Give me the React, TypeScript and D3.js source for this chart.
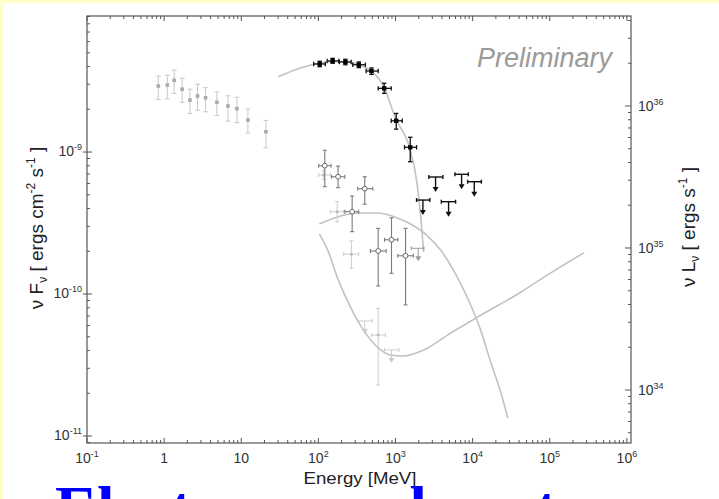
import React from 'react';
import * as d3 from 'd3';

const W = 719;
const H = 499;

// Low-energy (COMPTEL-like) points: energy [MeV], nuFnu and error range
const lowE = [0.84, 1.10, 1.35, 1.71, 2.16, 2.71, 3.44, 4.83, 6.72, 8.79, 12.2, 20.9];
const lowF = [2.92e-9, 2.96e-9, 3.20e-9, 2.77e-9, 2.32e-9, 2.48e-9, 2.41e-9, 2.24e-9, 2.11e-9, 2.02e-9, 1.68e-9, 1.39e-9];
const lowFLo = [2.35e-9, 2.37e-9, 2.59e-9, 2.24e-9, 1.87e-9, 1.97e-9, 1.92e-9, 1.81e-9, 1.65e-9, 1.61e-9, 1.36e-9, 1.07e-9];
const lowFHi = [3.43e-9, 3.47e-9, 3.78e-9, 3.31e-9, 2.77e-9, 3.00e-9, 2.84e-9, 2.65e-9, 2.49e-9, 2.43e-9, 2.01e-9, 1.67e-9];

// LAT (black) points
const latE = [104, 153, 224, 334, 488, 713, 1021, 1552];
const latELo = [86.9, 130, 187, 279, 416, 596, 879, 1309];
const latEHi = [123, 184, 266, 407, 596, 879, 1222, 1875];
const latF = [4.17e-9, 4.38e-9, 4.31e-9, 4.12e-9, 3.72e-9, 2.81e-9, 1.66e-9, 1.08e-9];
const latFLo = [3.99e-9, 4.22e-9, 4.12e-9, 3.93e-9, 3.52e-9, 2.59e-9, 1.45e-9, 8.55e-10];
const latFHi = [4.36e-9, 4.57e-9, 4.50e-9, 4.31e-9, 3.91e-9, 3.05e-9, 1.87e-9, 1.27e-9];

// LAT upper limits (black)
const ulE = [2265, 3305, 4875, 7190, 10500];
const ulELo = [1875, 2704, 3926, 5888, 8610];
const ulEHi = [2786, 4111, 6012, 8790, 12970];
const ulF = [4.59e-10, 6.67e-10, 4.47e-10, 6.97e-10, 6.18e-10];

// Open-circle (grey) points
const circE = [121, 180, 399, 274, 596, 887, 1349];
const circELo = [101, 148, 324, 220, 473, 719, 1072];
const circEHi = [146, 220, 507, 333, 757, 1072, 1698];
const circF = [8.01e-10, 6.70e-10, 5.52e-10, 3.80e-10, 2.01e-10, 2.41e-10, 1.86e-10];
const circFLo = [5.70e-10, 5.61e-10, 4.29e-10, 2.75e-10, 1.14e-10, 1.40e-10, 8.38e-11];
const circFHi = [1.03e-9, 7.96e-10, 6.70e-10, 4.90e-10, 2.90e-10, 3.44e-10, 2.90e-10];

// Light grey points
const lightE = [117, 175, 268, 596];
const lightELo = [101, 143, 213, 488];
const lightEHi = [143, 213, 333, 741];
const lightF = [6.89e-10, 3.80e-10, 1.91e-10, 5.14e-11];
const lightFLo = [6.4e-10, 3.23e-10, 1.52e-10, 2.29e-11];
const lightFHi = [7.4e-10, 4.47e-10, 2.37e-10, 7.92e-11];

// Grey upper limits
const gulE = [1972];
const gulELo = [1600];
const gulEHi = [2333];
const gulF = [2.10e-10];

// Light upper limits
const lulE = [399, 887];
const lulELo = [324, 719];
const lulEHi = [498, 1104];
const lulF = [6.46e-11, 4.04e-11];

// Model curves
const curveAE = [30.3, 58.3, 106, 166, 261, 373, 503, 699, 1000, 1520, 1875, 2113, 2312];
const curveAF = [3.39e-9, 3.91e-9, 4.24e-9, 4.34e-9, 4.27e-9, 4.03e-9, 3.66e-9, 2.92e-9, 1.73e-9, 1.07e-9, 6.35e-10, 3.60e-10, 1.98e-10];
const curveBE = [103, 193, 351, 566, 1000, 1567, 2529, 3840, 6194, 9418, 12700, 17130, 23110, 28510];
const curveBF = [3.11e-10, 3.54e-10, 3.72e-10, 3.72e-10, 3.48e-10, 3.11e-10, 2.60e-10, 2.04e-10, 1.34e-10, 8.37e-11, 5.57e-11, 3.32e-11, 2.04e-11, 1.34e-11];
const curveCE = [103, 135, 177, 261, 384, 583, 861, 1270, 2312, 5180, 11610, 42000, 103000, 276700];
const curveCF = [2.65e-10, 1.98e-10, 1.30e-10, 8.10e-11, 5.57e-11, 4.23e-11, 3.72e-11, 3.66e-11, 4.03e-11, 5.31e-11, 6.89e-11, 1.03e-10, 1.41e-10, 1.95e-10];

// Axis tick decades
const xDecades = [-1, 0, 1, 2, 3, 4, 5, 6];
const yDecades = [-11, -10, -9];
const yRDecades = [34, 35, 36];
const LUM = 4.74e44; // nuLnu / nuFnu conversion

export default function App() {
  const L = 87, R = 631, T = 16, B = 443;
  const x = d3.scaleLog().domain([0.1, 1.13e6]).range([L, R]);
  const y = d3.scaleLog().domain([8.93e-12, 9.08e-9]).range([B, T]);
  const yR = d3.scaleLog().domain([8.93e-12 * LUM, 9.08e-9 * LUM]).range([B, T]);

  const sans = "'Liberation Sans', Arial, sans-serif";
  const axisColor = '#555';

  const line = d3.line<[number, number]>()
    .x((d) => x(d[0]))
    .y((d) => y(d[1]))
    .curve(d3.curveMonotoneX);

  const minors = (scale: any, decades: number[], extra: number[]) => {
    const [d0, d1] = scale.domain();
    const out: number[] = [];
    const all = [...extra, ...decades];
    all.forEach((d) => {
      for (let k = 2; k <= 9; k++) {
        const v = k * Math.pow(10, d);
        if (v >= d0 && v <= d1) out.push(v);
      }
    });
    return out;
  };

  const xMinor = minors(x, xDecades, []);
  const yMinor = minors(y, yDecades, [-12]);
  const yRMinor = minors(yR, yRDecades, [33]);

  const errCross = (
    key: string, e: number, eLo: number, eHi: number, f: number, fLo: number, fHi: number,
    color: string, cap: number, sw: number,
  ) => {
    const cx = x(e), cy = y(f), xl = x(eLo), xh = x(eHi), yl = y(fLo), yh = y(fHi);
    return (
      <g key={key} stroke={color} strokeWidth={sw} fill="none">
        <line x1={xl} x2={xh} y1={cy} y2={cy} />
        <line x1={xl} x2={xl} y1={cy - cap} y2={cy + cap} />
        <line x1={xh} x2={xh} y1={cy - cap} y2={cy + cap} />
        <line x1={cx} x2={cx} y1={yh} y2={yl} />
        <line x1={cx - cap} x2={cx + cap} y1={yh} y2={yh} />
        <line x1={cx - cap} x2={cx + cap} y1={yl} y2={yl} />
      </g>
    );
  };

  const upperLimit = (
    key: string, e: number, eLo: number, eHi: number, f: number, color: string, sw: number, len: number,
  ) => {
    const cx = x(e), cy = y(f), xl = x(eLo), xh = x(eHi);
    const tip = cy + len;
    return (
      <g key={key}>
        <g stroke={color} strokeWidth={sw} fill="none">
          <line x1={xl} x2={xh} y1={cy} y2={cy} />
          <line x1={xl} x2={xl} y1={cy - 2} y2={cy + 2} />
          <line x1={xh} x2={xh} y1={cy - 2} y2={cy + 2} />
          <line x1={cx} x2={cx} y1={cy} y2={tip - 3} />
        </g>
        <path d={`M${cx - 3},${tip - 5} L${cx + 3},${tip - 5} L${cx},${tip} Z`} fill={color} />
      </g>
    );
  };

  const sup = (txt: string, size: number) => (
    <tspan fontSize={size} dy={-6}>{txt}</tspan>
  );

  return (
    <svg width={W} height={H} style={{ position: 'absolute', left: 0, top: 0, display: 'block' }}
      xmlns="http://www.w3.org/2000/svg">
      <rect x={0} y={0} width={W} height={H} fill="#ffffcc" />
      <rect x={3} y={3} width={W - 3} height={H - 3} fill="#ffffff" />

      {/* frame */}
      <rect x={L} y={T} width={R - L} height={B - T} fill="none" stroke={axisColor} strokeWidth={1.2} />

      {/* x ticks bottom & top */}
      {xDecades.map((d) => {
        const px = x(Math.pow(10, d));
        return (
          <g key={`xt${d}`} stroke={axisColor} strokeWidth={1}>
            <line x1={px} x2={px} y1={B} y2={B - 5} />
            <line x1={px} x2={px} y1={T} y2={T + 5} />
          </g>
        );
      })}
      {xMinor.map((v, i) => {
        const px = x(v);
        return (
          <g key={`xm${i}`} stroke={axisColor} strokeWidth={1}>
            <line x1={px} x2={px} y1={B} y2={B - 3} />
            <line x1={px} x2={px} y1={T} y2={T + 3} />
          </g>
        );
      })}

      {/* left ticks */}
      {yDecades.map((d) => {
        const py = y(Math.pow(10, d));
        return <line key={`yt${d}`} x1={L - 4} x2={L + 5} y1={py} y2={py} stroke={axisColor} strokeWidth={1} />;
      })}
      {yMinor.map((v, i) => {
        const py = y(v);
        return <line key={`ym${i}`} x1={L} x2={L + 3} y1={py} y2={py} stroke={axisColor} strokeWidth={1} />;
      })}

      {/* right ticks */}
      {yRDecades.map((d) => {
        const py = yR(Math.pow(10, d));
        return <line key={`yrt${d}`} x1={R} x2={R - 6} y1={py} y2={py} stroke={axisColor} strokeWidth={1} />;
      })}
      {yRMinor.map((v, i) => {
        const py = yR(v);
        return <line key={`yrm${i}`} x1={R} x2={R - 3} y1={py} y2={py} stroke={axisColor} strokeWidth={1} />;
      })}

      {/* x tick labels */}
      {xDecades.map((d) => {
        const px = x(Math.pow(10, d));
        return (
          <text key={`xl${d}`} x={px} y={463} textAnchor="middle" fontFamily={sans} fontSize={14} fill="#333">
            {d === 0 ? '1' : d === 1 ? '10' : (<>10{sup(String(d), 9)}</>)}
          </text>
        );
      })}

      {/* left tick labels */}
      {yDecades.map((d) => {
        const py = y(Math.pow(10, d));
        return (
          <text key={`yl${d}`} x={82} y={py + 4} textAnchor="end" fontFamily={sans} fontSize={14} fill="#333">
            10{sup(String(d), 9)}
          </text>
        );
      })}

      {/* right tick labels */}
      {yRDecades.map((d) => {
        const py = yR(Math.pow(10, d));
        return (
          <text key={`yrl${d}`} x={638} y={py + 5} textAnchor="start" fontFamily={sans} fontSize={14} fill="#333">
            10{sup(String(d), 9)}
          </text>
        );
      })}

      {/* axis titles */}
      <text x={360} y={484} textAnchor="middle" fontFamily={sans} fontSize={16} fill="#222"
        textLength={113} lengthAdjust="spacingAndGlyphs">Energy [MeV]</text>

      <text transform="translate(43,228) rotate(-90)" textAnchor="middle" fontFamily={sans} fontSize={19} fill="#222">
        ν F<tspan fontSize={12} dy={4}>ν</tspan>
        <tspan dy={-4}> [ ergs cm</tspan>
        <tspan fontSize={12} dy={-8}>-2</tspan>
        <tspan dy={8}> s</tspan>
        <tspan fontSize={12} dy={-8}>-1</tspan>
        <tspan dy={8}> ]</tspan>
      </text>

      <text transform="translate(695,227) rotate(-90)" textAnchor="middle" fontFamily={sans} fontSize={19} fill="#222">
        ν L<tspan fontSize={12} dy={4}>ν</tspan>
        <tspan dy={-4}> [ ergs s</tspan>
        <tspan fontSize={12} dy={-8}>-1</tspan>
        <tspan dy={8}> ]</tspan>
      </text>

      {/* model curves */}
      <path d={line(curveAE.map((e, i) => [e, curveAF[i]]) as any) || ''} fill="none" stroke="#c2c2c2" strokeWidth={1.6} />
      <path d={line(curveBE.map((e, i) => [e, curveBF[i]]) as any) || ''} fill="none" stroke="#c2c2c2" strokeWidth={1.6} />
      <path d={line(curveCE.map((e, i) => [e, curveCF[i]]) as any) || ''} fill="none" stroke="#c2c2c2" strokeWidth={1.6} />

      {/* low-energy points */}
      {lowE.map((e, i) => {
        const cx = x(e), cy = y(lowF[i]), yl = y(lowFLo[i]), yh = y(lowFHi[i]);
        return (
          <g key={`low${i}`}>
            <g stroke="#c8c8c8" strokeWidth={1}>
              <line x1={cx} x2={cx} y1={yh} y2={yl} />
              <line x1={cx - 2.5} x2={cx + 2.5} y1={yh} y2={yh} />
              <line x1={cx - 2.5} x2={cx + 2.5} y1={yl} y2={yl} />
            </g>
            <rect x={cx - 1.8} y={cy - 1.8} width={3.6} height={3.6} fill="#aaaaaa" />
          </g>
        );
      })}

      {/* light points */}
      {lightE.map((e, i) => (
        <g key={`lt${i}`}>
          {errCross(`lte${i}`, e, lightELo[i], lightEHi[i], lightF[i], lightFLo[i], lightFHi[i], '#cccccc', 2, 1)}
          <circle cx={x(e)} cy={y(lightF[i])} r={1.5} fill="#bbbbbb" />
        </g>
      ))}
      {lulE.map((e, i) => upperLimit(`lul${i}`, e, lulELo[i], lulEHi[i], lulF[i], '#cccccc', 1, 13))}

      {/* open circle points */}
      {circE.map((e, i) => (
        <g key={`c${i}`}>
          {errCross(`ce${i}`, e, circELo[i], circEHi[i], circF[i], circFLo[i], circFHi[i], '#7a7a7a', 2, 1.1)}
          <circle cx={x(e)} cy={y(circF[i])} r={2.4} fill="#ffffff" stroke="#6a6a6a" strokeWidth={1} />
        </g>
      ))}
      {gulE.map((e, i) => upperLimit(`gul${i}`, e, gulELo[i], gulEHi[i], gulF[i], '#9a9a9a', 1, 13))}

      {/* LAT points */}
      {latE.map((e, i) => (
        <g key={`lat${i}`}>
          {errCross(`late${i}`, e, latELo[i], latEHi[i], latF[i], latFLo[i], latFHi[i], '#111111', 2.2, 1.3)}
          <rect x={x(e) - 2.2} y={y(latF[i]) - 2.2} width={4.4} height={4.4} fill="#000" />
        </g>
      ))}
      {ulE.map((e, i) => upperLimit(`ul${i}`, e, ulELo[i], ulEHi[i], ulF[i], '#111111', 1.4, 15))}

      {/* Preliminary */}
      <text x={612} y={67} textAnchor="end" fontFamily={sans} fontStyle="italic" fontSize={27} fill="#9a9a9a">
        Preliminary
      </text>

      {/* slide title (cut off) */}
      <text x={55} y={530} fontFamily="'Liberation Serif', 'Times New Roman', serif" fontWeight="bold"
        fontSize={63} fill="#0000ff">Electrons and protons</text>
    </svg>
  );
}
